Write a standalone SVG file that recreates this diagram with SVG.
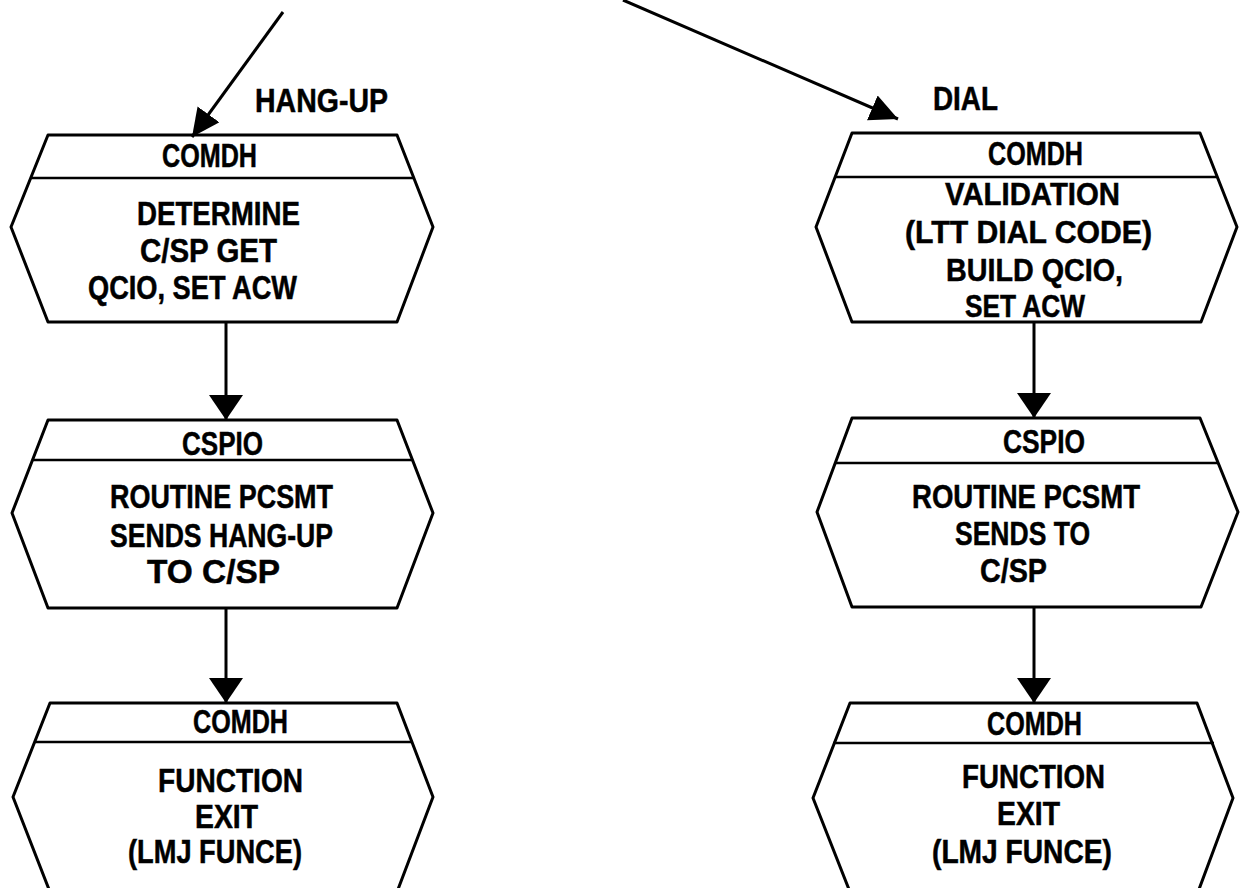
<svg xmlns="http://www.w3.org/2000/svg" width="1243" height="888" viewBox="0 0 1243 888">
<defs>
<marker id="ah" viewBox="0 0 25 34" refX="25" refY="17" markerWidth="25" markerHeight="34" markerUnits="userSpaceOnUse" orient="auto">
<path d="M0,0 L25,17 L0,34 z" fill="#000"/>
</marker>
<marker id="ahs" viewBox="0 0 28 27" refX="28" refY="13.5" markerWidth="28" markerHeight="27" markerUnits="userSpaceOnUse" orient="auto">
<path d="M0,0 L28,13.5 L0,27 z" fill="#000"/>
</marker>
</defs>
<style>
.box{fill:none;stroke:#000;stroke-width:3;stroke-linejoin:round}
.div{stroke:#000;stroke-width:2.5}
.con{stroke:#000;stroke-width:3;fill:none}
text{font-family:"Liberation Sans",Arial,sans-serif;font-weight:bold;font-size:33px;fill:#000;stroke:#000;stroke-width:0.5}
.tight{font-size:31px}
</style>
<rect width="1243" height="888" fill="#fff"/>
<g id="connectors">
<line class="con" x1="283" y1="12" x2="192" y2="137" marker-end="url(#ahs)"/>
<line class="con" x1="623" y1="0" x2="898" y2="119" marker-end="url(#ahs)"/>
<line class="con" x1="226" y1="322" x2="226" y2="420" marker-end="url(#ah)"/>
<line class="con" x1="226" y1="608" x2="226" y2="703" marker-end="url(#ah)"/>
<line class="con" x1="1034" y1="322" x2="1034" y2="418" marker-end="url(#ah)"/>
<line class="con" x1="1034" y1="607" x2="1034" y2="703" marker-end="url(#ah)"/>
</g>
<g id="labels">
<text x="255" y="112" textLength="133" lengthAdjust="spacingAndGlyphs">HANG-UP</text>
<text x="933" y="110" textLength="65" lengthAdjust="spacingAndGlyphs">DIAL</text>
</g>
<g id="node-l1">
<path class="box" d="M48,135 L397,135 L433,227 L397,322 L48,322 L11,227 Z"/>
<line class="div" x1="31" y1="178" x2="414" y2="178"/>
<text x="162" y="167" textLength="95" lengthAdjust="spacingAndGlyphs">COMDH</text>
<text x="137" y="225" textLength="163" lengthAdjust="spacingAndGlyphs">DETERMINE</text>
<text x="140" y="262" textLength="137" lengthAdjust="spacingAndGlyphs">C/SP GET</text>
<text x="88" y="299" textLength="209" lengthAdjust="spacingAndGlyphs">QCIO, SET ACW</text>
</g>
<g id="node-l2">
<path class="box" d="M48,420 L397,420 L433,513 L397,608 L48,608 L12,513 Z"/>
<line class="div" x1="32" y1="460" x2="413" y2="460"/>
<text x="182" y="455" textLength="81" lengthAdjust="spacingAndGlyphs">CSPIO</text>
<text x="110" y="508" textLength="223" lengthAdjust="spacingAndGlyphs">ROUTINE PCSMT</text>
<text x="110" y="547" textLength="223" lengthAdjust="spacingAndGlyphs">SENDS HANG-UP</text>
<text x="147" y="583" textLength="133" lengthAdjust="spacingAndGlyphs">TO C/SP</text>
</g>
<g id="node-l3">
<path class="box" d="M50,703 L397,703 L433,797 L397,892 L50,892 L13,797 Z"/>
<line class="div" x1="34" y1="742" x2="413" y2="742"/>
<text x="193" y="733" textLength="95" lengthAdjust="spacingAndGlyphs">COMDH</text>
<text x="158" y="792" textLength="145" lengthAdjust="spacingAndGlyphs">FUNCTION</text>
<text x="195" y="828" textLength="63" lengthAdjust="spacingAndGlyphs">EXIT</text>
<text x="128" y="863" textLength="174" lengthAdjust="spacingAndGlyphs">(LMJ FUNCE)</text>
</g>
<g id="node-r1">
<path class="box" d="M852,133 L1200,133 L1237,227 L1201,322 L852,322 L816,227 Z"/>
<line class="div" x1="835" y1="177" x2="1217" y2="177"/>
<text x="988" y="165" textLength="95" lengthAdjust="spacingAndGlyphs">COMDH</text>
<text class="tight" x="945" y="205" textLength="175" lengthAdjust="spacingAndGlyphs">VALIDATION</text>
<text class="tight" x="905" y="243" textLength="247" lengthAdjust="spacingAndGlyphs">(LTT DIAL CODE)</text>
<text class="tight" x="946" y="281" textLength="177" lengthAdjust="spacingAndGlyphs">BUILD QCIO,</text>
<text class="tight" x="965" y="317" textLength="120" lengthAdjust="spacingAndGlyphs">SET ACW</text>
</g>
<g id="node-r2">
<path class="box" d="M852,418 L1200,418 L1238,512 L1201,607 L852,607 L817,512 Z"/>
<line class="div" x1="835" y1="463" x2="1218" y2="463"/>
<text x="1003" y="453" textLength="82" lengthAdjust="spacingAndGlyphs">CSPIO</text>
<text x="912" y="508" textLength="228" lengthAdjust="spacingAndGlyphs">ROUTINE PCSMT</text>
<text x="955" y="545" textLength="135" lengthAdjust="spacingAndGlyphs">SENDS TO</text>
<text x="980" y="582" textLength="67" lengthAdjust="spacingAndGlyphs">C/SP</text>
</g>
<g id="node-r3">
<path class="box" d="M850,703 L1197,703 L1233,798 L1198,892 L850,892 L813,798 Z"/>
<line class="div" x1="833" y1="743" x2="1214" y2="743"/>
<text x="987" y="735" textLength="95" lengthAdjust="spacingAndGlyphs">COMDH</text>
<text x="962" y="788" textLength="143" lengthAdjust="spacingAndGlyphs">FUNCTION</text>
<text x="997" y="825" textLength="63" lengthAdjust="spacingAndGlyphs">EXIT</text>
<text x="932" y="863" textLength="180" lengthAdjust="spacingAndGlyphs">(LMJ FUNCE)</text>
</g>
</svg>
